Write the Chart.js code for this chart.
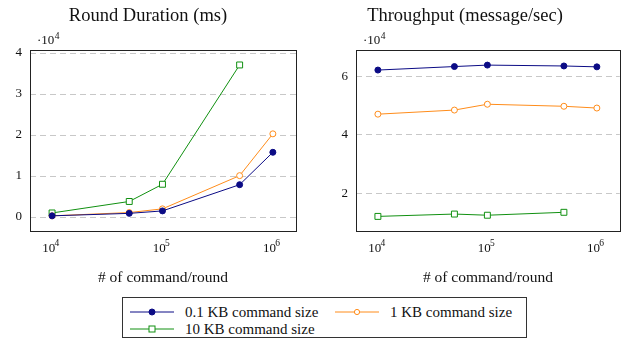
<!DOCTYPE html>
<html lang="en">
<head>
    <meta charset="UTF-8">
    <title>Round Duration and Throughput</title>
    <script src="https://cdn.jsdelivr.net/npm/chart.js"></script>
    <style>
        body { margin: 0; background: #fff; font-family: 'Liberation Serif', serif; }
        #wrap { position: relative; width: 625px; height: 341px; }
        #left { position: absolute; left: 0; top: 0; }
        #right { position: absolute; left: 310px; top: 0; }
        #legend { position: absolute; left: 122px; top: 297px; width: 405px; height: 41px;
                  border: 1px solid #333; box-sizing: border-box; font-size: 15px; color: #111; }
        .entry { position: absolute; display: flex; align-items: center; height: 16px; }
        .entry svg { margin-right: 11px; }
    </style>
</head>
<body>
<div id="wrap">
    <canvas id="left" width="310" height="292"></canvas>
    <canvas id="right" width="315" height="292"></canvas>
    <div id="legend"></div>
</div>

<script>
    // commands per round (x axis)
    const commandsPerRound = [1e4, 5e4, 1e5, 5e5, 1e6];
    const seriesNames = ['0.1 KB command size', '1 KB command size', '10 KB command size'];

    // round duration in ms
    const durationSmall = [300, 900, 1500, 7900, 15800];
    const durationMedium = [300, 1100, 2000, 10100, 20300];
    const durationLarge = [1000, 3800, 8000, 37100];

    // throughput in message/sec
    const throughputSmall = [62200, 63400, 63900, 63600, 63300];
    const throughputMedium = [47100, 48500, 50500, 49800, 49200];
    const throughputLarge = [12100, 12900, 12500, 13500];

    const xTicks = [1e4, 1e5, 1e6];
    const durationTicks = [0, 1e4, 2e4, 3e4, 4e4];
    const throughputTicks = [2e4, 4e4, 6e4];

    const colors = ['#0b0b85', '#ff8c1a', '#109010'];
    const FONT = "'Liberation Serif', serif";
    const X_PAD = 10;

    function toPoints(values) {
        return values.map((v, i) => ({ x: commandsPerRound[i], y: v }));
    }

    function makeDatasets(series) {
        return [
            { label: seriesNames[0], data: toPoints(series[0]), borderColor: colors[0],
              backgroundColor: colors[0], pointStyle: 'circle', pointRadius: 3 },
            { label: seriesNames[1], data: toPoints(series[1]), borderColor: colors[1],
              backgroundColor: '#fff', pointStyle: 'circle', pointRadius: 3 },
            { label: seriesNames[2], data: toPoints(series[2]), borderColor: colors[2],
              backgroundColor: '#fff', pointStyle: 'rect', pointRadius: 4.2 }
        ].map(d => Object.assign(d, { borderWidth: 1, pointBorderWidth: 1, tension: 0 }));
    }

    // frame around plot area, exponents of the x ticks and the "·10^4" factor label
    const framePlugin = {
        id: 'frame',
        afterDraw(chart) {
            const a = chart.chartArea, ctx = chart.ctx;
            const xs = chart.scales.x;
            ctx.save();
            ctx.strokeStyle = '#222';
            ctx.lineWidth = 1;
            ctx.strokeRect(Math.round(a.left) + 0.5, Math.round(a.top) + 0.5,
                Math.round(a.right - a.left), Math.round(a.bottom - a.top));
            ctx.fillStyle = '#111';

            // tick exponents
            ctx.font = '9.5px ' + FONT;
            ctx.textBaseline = 'top';
            ctx.textAlign = 'left';
            xTicks.forEach(v => {
                const p = xs.getPixelForValue(v);
                ctx.fillText(String(Math.round(Math.log10(v))), p + 2.5, xs.top + X_PAD - 2.5);
            });

            // factor label
            ctx.textBaseline = 'alphabetic';
            ctx.font = '13px ' + FONT;
            const base = '\u00b710';
            const x0 = a.left + 7, y0 = a.top - 6;
            ctx.fillText(base, x0, y0);
            const w = ctx.measureText(base).width;
            ctx.font = '9.5px ' + FONT;
            ctx.fillText('4', x0 + w + 0.5, y0 - 5);
            ctx.restore();
        }
    };

    function makeChart(id, title, series, yTicks, yMin, yMax, yWidth, padRight) {
        return new Chart(document.getElementById(id), {
            type: 'line',
            data: { datasets: makeDatasets(series) },
            plugins: [framePlugin],
            options: {
                responsive: false,
                animation: false,
                layout: { padding: { right: padRight, left: 0, bottom: 0 } },
                plugins: {
                    legend: { display: false },
                    tooltip: { enabled: false },
                    title: { display: true, text: title, color: '#111',
                             font: { family: FONT, size: 18.5, weight: 'normal' },
                             padding: { top: 5, bottom: 23 } }
                },
                scales: {
                    x: {
                        type: 'logarithmic',
                        min: 6310, max: 1.62e6,
                        afterBuildTicks: s => { s.ticks = xTicks.map(v => ({ value: v })); },
                        afterFit: s => { s.height = 61; },
                        grid: { display: false, drawTicks: false },
                        border: { display: false },
                        ticks: { color: '#111', padding: X_PAD, maxRotation: 0, autoSkip: false,
                                 font: { family: FONT, size: 13 },
                                 callback: () => '10\u2002' },
                        title: { display: true, text: '# of command/round', color: '#111',
                                 font: { family: FONT, size: 15.5 }, padding: { top: 0, bottom: 5 } }
                    },
                    y: {
                        min: yMin, max: yMax,
                        afterBuildTicks: s => { s.ticks = yTicks.map(v => ({ value: v })); },
                        afterFit: s => { s.width = yWidth; },
                        grid: { color: '#c8c8c8', lineWidth: 1, drawTicks: false },
                        border: { display: false, dash: [6, 4] },
                        ticks: { color: '#111', padding: 8, font: { family: FONT, size: 13 },
                                 callback: v => String(v / 1e4) }
                    }
                }
            }
        });
    }

    makeChart('left', 'Round Duration (ms)', [durationSmall, durationMedium, durationLarge],
        durationTicks, -3400, 40700, 30, 14);
    makeChart('right', 'Throughput (message/sec)', [throughputSmall, throughputMedium, throughputLarge],
        throughputTicks, 7100, 69000, 46, 5);

    // legend, two columns like the original
    const legendPos = [[7, 6], [212, 6], [7, 23]];
    const marker = [
        '<circle cx="22" cy="8" r="3" fill="' + colors[0] + '" stroke="' + colors[0] + '"/>',
        '<circle cx="22" cy="8" r="2.6" fill="#fff" stroke="' + colors[1] + '"/>',
        '<rect x="19" y="5" width="6" height="6" fill="#fff" stroke="' + colors[2] + '"/>'
    ];
    const legend = document.getElementById('legend');
    seriesNames.forEach((name, i) => {
        const e = document.createElement('div');
        e.className = 'entry';
        e.style.left = legendPos[i][0] + 'px';
        e.style.top = legendPos[i][1] + 'px';
        e.innerHTML = '<svg width="44" height="16"><line x1="0" y1="8" x2="44" y2="8" stroke="' +
            colors[i] + '" stroke-width="1"/>' + marker[i] + '</svg><span>' + name + '</span>';
        legend.appendChild(e);
    });
</script>
</body>
</html>
